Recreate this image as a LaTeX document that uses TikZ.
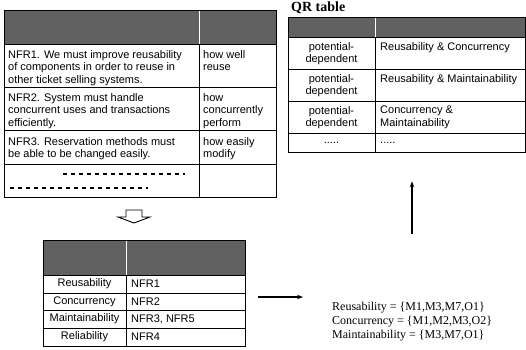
\documentclass[tikz,border=0pt]{standalone}
\usepackage{fontspec}
\setmainfont{Liberation Serif}
\newfontfamily\tsans{Liberation Sans}
\usetikzlibrary{arrows.meta}
\begin{document}
\begin{tikzpicture}[x=1pt,y=-1pt,
  cell/.style={font=\tsans\fontsize{11}{12.8}\selectfont, inner sep=0pt, anchor=north west, align=left},
  ccell/.style={font=\tsans\fontsize{11}{12.8}\selectfont, inner sep=0pt, align=center},
  hdr/.style={fill=black!62},
  gridline/.style={line width=0.8pt},
  frame/.style={draw, line width=1.3pt, inner sep=0pt, anchor=north west},
  dashline/.style={line width=1.1pt, dash pattern=on 4pt off 4pt},
  arr/.style={line width=1.2pt, -{Stealth[length=6pt,width=4.5pt]}}
]
\useasboundingbox (0,0) rectangle (526,349);

% ---------- top-left table ----------
\fill[hdr] (4,10) rectangle (276,44);
\draw[white, line width=1pt] (199,10) -- (199,44);
\draw[gridline] (4,44) -- (276,44) (4,87) -- (276,87) (4,130) -- (276,130) (4,164) -- (276,164);
\draw[gridline] (199,44) -- (199,197);
\node[frame, minimum width=272pt, minimum height=187pt] (t1) at (4,10) {};

\node[cell] (n1) at (8,50) {NFR1. We must improve reusability\\of components in order to reuse in\\other ticket selling systems.};
\node[cell] (h1) at (203,50) {how well\\reuse};
\node[cell] (n2) at (8,93) {NFR2. System must handle\\concurrent uses and transactions\\efficiently.};
\node[cell] (h2) at (203,93) {how\\concurrently\\perform};
\node[cell] (n3) at (8,137) {NFR3. Reservation methods must\\be able to be changed easily.};
\node[cell] (h3) at (203,137) {how easily\\modify};
\draw[dashline] (63,174) -- (185,174);
\draw[dashline] (10,188) -- (148,188);

% ---------- hollow down arrow ----------
\draw[line width=0.9pt] (126,210) -- (142,210) -- (142,217) -- (150,217) -- (134,223) -- (118,217) -- (126,217) -- cycle;

% ---------- bottom table ----------
\fill[hdr] (43,240) rectangle (245,275);
\draw[white, line width=1pt] (126,240) -- (126,275);
\draw[gridline] (43,275) -- (245,275) (43,293) -- (245,293) (43,310) -- (245,310) (43,328) -- (245,328);
\draw[gridline] (126,275) -- (126,346);
\node[frame, minimum width=202pt, minimum height=106pt] (t2) at (43,240) {};

\node[ccell] (q1) at (84.5,284) {Reusability};
\node[ccell] (q2) at (84.5,301.5) {Concurrency};
\node[ccell] (q3) at (84.5,319) {Maintainability};
\node[ccell] (q4) at (84.5,337) {Reliability};
\node[cell, anchor=west] (r1) at (131,284) {NFR1};
\node[cell, anchor=west] (r2) at (131,301.5) {NFR2};
\node[cell, anchor=west] (r3) at (131,319) {NFR3, NFR5};
\node[cell, anchor=west] (r4) at (131,337) {NFR4};

% ---------- QR table ----------
\node[font=\bfseries\fontsize{14}{16}\selectfont, inner sep=0pt, anchor=west] (qrt) at (291,8) {QR table};
\fill[hdr] (288,17) rectangle (525,37);
\draw[white, line width=1pt] (375,17) -- (375,37);
\draw[gridline] (288,37) -- (525,37) (288,69) -- (525,69) (288,101) -- (525,101) (288,133) -- (525,133);
\draw[gridline] (375,37) -- (375,152);
\node[frame, minimum width=237pt, minimum height=135pt] (qr) at (288,17) {};

\node[ccell, anchor=north] (p1) at (331.5,42) {potential-\\dependent};
\node[ccell, anchor=north] (p2) at (331.5,74) {potential-\\dependent};
\node[ccell, anchor=north] (p3) at (331.5,106) {potential-\\dependent};
\node[ccell] (p4) at (331.5,143) {.....};
\node[cell] (s1) at (380,42) {Reusability \& Concurrency};
\node[cell] (s2) at (380,74) {Reusability \& Maintainability};
\node[cell] (s3) at (380,106) {Concurrency \&\\Maintainability};
\node[cell, anchor=west] (s4) at (380,143) {.....};

% ---------- sets ----------
\node[inner sep=0pt, anchor=north west, align=left, font=\fontsize{12}{14}\selectfont] (sets) at (332,302)
  {Reusability = \{M1,M3,M7,O1\}\\Concurrency = \{M1,M2,M3,O2\}\\Maintainability = \{M3,M7,O1\}};

% ---------- connectors ----------
\coordinate (aend) at (303,297);
\draw[arr] ([xshift=12pt]t2.east |- aend) -- (aend);
\coordinate (ufoot) at (412,234);
\draw[arr, shorten >=28pt] (ufoot) -- (ufoot |- qr.south);
\end{tikzpicture}
\end{document}
